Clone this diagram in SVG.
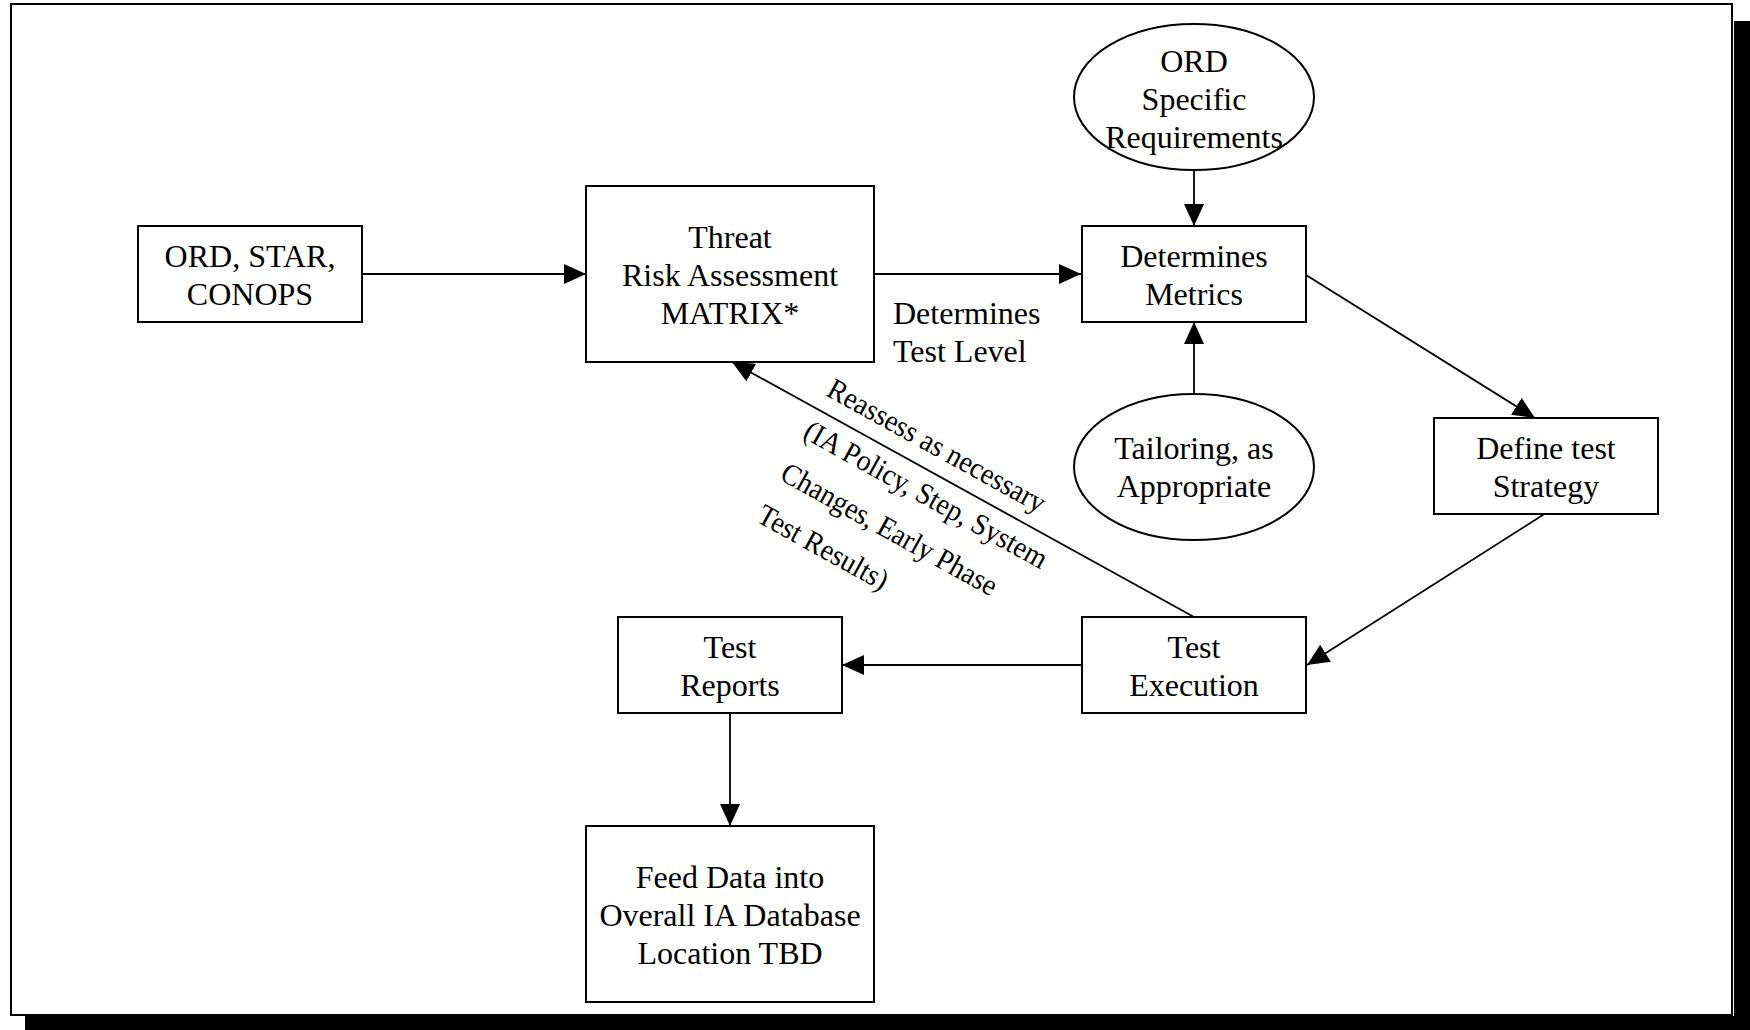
<svg xmlns="http://www.w3.org/2000/svg" width="1750" height="1030" viewBox="0 0 1750 1030">
<defs>
<style>
.box{fill:#fff;stroke:#000;stroke-width:2}
.ln{fill:none;stroke:#000;stroke-width:1.8}
text{font-family:"Liberation Serif","Times New Roman",serif;font-size:32px;fill:#000}
.c{text-anchor:middle}
.rot{font-size:30px}
</style>
<marker id="ah" markerUnits="userSpaceOnUse" markerWidth="24" markerHeight="20" refX="22" refY="10" orient="auto">
<path d="M0,0 L22,10 L0,20 z" fill="#000"/>
</marker>
</defs>
<rect x="0" y="0" width="1750" height="1030" fill="#fff"/>
<g id="frame">
<rect x="1734" y="21" width="16" height="1009" fill="#000"/>
<rect x="25" y="1016" width="1725" height="14" fill="#000"/>
<rect x="11" y="4" width="1721" height="1011" fill="#fff" stroke="#000" stroke-width="2"/>
</g>
<g id="connectors">
<line class="ln" x1="363" y1="274" x2="586" y2="274" marker-end="url(#ah)"/>
<line class="ln" x1="874" y1="274" x2="1081" y2="274" marker-end="url(#ah)"/>
<line class="ln" x1="1194" y1="170" x2="1194" y2="226" marker-end="url(#ah)"/>
<line class="ln" x1="1194" y1="393" x2="1194" y2="322" marker-end="url(#ah)"/>
<line class="ln" x1="1306" y1="275" x2="1535" y2="418" marker-end="url(#ah)"/>
<line class="ln" x1="1546" y1="513" x2="1307" y2="665" marker-end="url(#ah)"/>
<line class="ln" x1="1082" y1="665" x2="842" y2="665" marker-end="url(#ah)"/>
<line class="ln" x1="1194" y1="617" x2="732" y2="362" marker-end="url(#ah)"/>
<line class="ln" x1="730" y1="713" x2="730" y2="826" marker-end="url(#ah)"/>
<text x="893" y="324">Determines</text>
<text x="893" y="362">Test Level</text>
<g transform="translate(825,395) rotate(29) scale(0.93,1)">
<text class="rot" x="0" y="0">Reassess as necessary</text>
<text class="rot" x="0" y="48">(IA Policy, Step, System</text>
<text class="rot" x="0" y="96">Changes, Early Phase</text>
<text class="rot" x="0" y="144">Test Results)</text>
</g>
</g>
<g id="ord-star">
<rect class="box" x="138" y="226" width="224" height="96"/>
<text class="c" x="250" y="267">ORD, STAR,</text>
<text class="c" x="250" y="305">CONOPS</text>
</g>
<g id="threat">
<rect class="box" x="586" y="186" width="288" height="176"/>
<text class="c" x="730" y="248">Threat</text>
<text class="c" x="730" y="286">Risk Assessment</text>
<text class="c" x="730" y="324">MATRIX*</text>
</g>
<g id="ord-specific">
<ellipse class="box" cx="1194" cy="97" rx="120" ry="73"/>
<text class="c" x="1194" y="72">ORD</text>
<text class="c" x="1194" y="110">Specific</text>
<text class="c" x="1194" y="148">Requirements</text>
</g>
<g id="metrics">
<rect class="box" x="1082" y="226" width="224" height="96"/>
<text class="c" x="1194" y="267">Determines</text>
<text class="c" x="1194" y="305">Metrics</text>
</g>
<g id="tailoring">
<ellipse class="box" cx="1194" cy="467" rx="120" ry="73"/>
<text class="c" x="1194" y="459">Tailoring, as</text>
<text class="c" x="1194" y="497">Appropriate</text>
</g>
<g id="define">
<rect class="box" x="1434" y="418" width="224" height="96"/>
<text class="c" x="1546" y="459">Define test</text>
<text class="c" x="1546" y="497">Strategy</text>
</g>
<g id="execution">
<rect class="box" x="1082" y="617" width="224" height="96"/>
<text class="c" x="1194" y="658">Test</text>
<text class="c" x="1194" y="696">Execution</text>
</g>
<g id="reports">
<rect class="box" x="618" y="617" width="224" height="96"/>
<text class="c" x="730" y="658">Test</text>
<text class="c" x="730" y="696">Reports</text>
</g>
<g id="feed">
<rect class="box" x="586" y="826" width="288" height="176"/>
<text class="c" x="730" y="888">Feed Data into</text>
<text class="c" x="730" y="926">Overall IA Database</text>
<text class="c" x="730" y="964">Location TBD</text>
</g>
</svg>
